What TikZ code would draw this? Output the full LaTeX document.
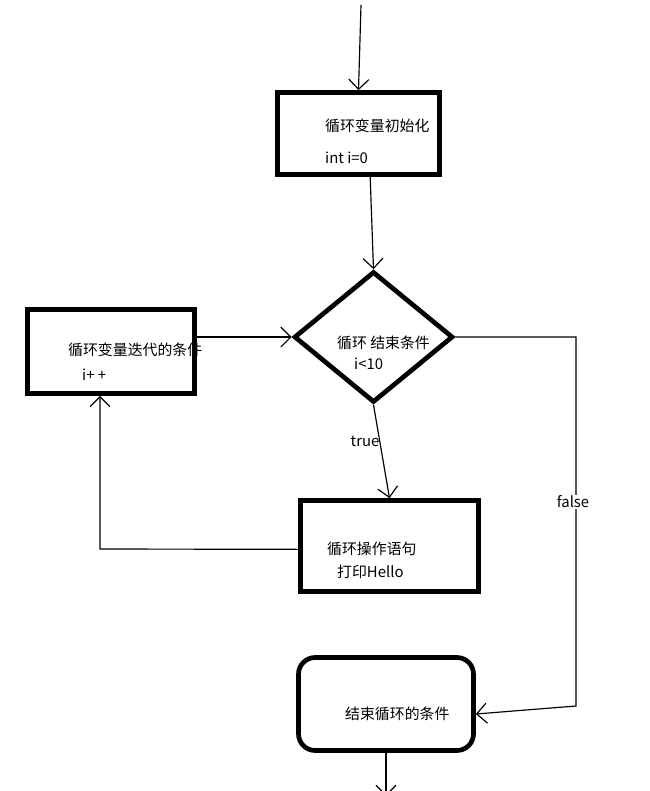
\documentclass[tikz,border=0pt]{standalone}
\usepackage{fontspec}
\setmainfont{Noto Sans CJK SC}
\usetikzlibrary{shapes.geometric,arrows.meta,positioning}

\begin{document}
\begin{tikzpicture}[x=0.03cm,y=-0.03cm,>={Straight Barb[length=3mm,width=6mm]},
	box/.style={draw,line width=4pt,inner sep=0pt},
	txt/.style={anchor=base west,inner sep=0pt,font=\fontsize{12.7}{15}\selectfont},
	line/.style={->,line width=1pt}]
			\useasboundingbox (0,0) rectangle (650,791);
			\clip (0,0) rectangle (650,791);

			\node[box,minimum width=4.86cm,minimum height=2.46cm] (init) at (358.5,133.5) {};
			\node[box,diamond,minimum width=4.77cm,minimum height=3.93cm] (cond) at (373.5,337) {};
			\node[box,minimum width=5.01cm,minimum height=2.52cm] (iter) at (111,351.5) {};
			\node[box,minimum width=5.34cm,minimum height=2.73cm] (op) at (389.5,546) {};
			\node[box,rounded corners=0.5cm,minimum width=5.25cm,minimum height=2.79cm] (end) at (386,704) {};

			\node[txt] (t1) at (325,132) {循环变量初始化};
			\node[txt] (t2) at (325,164) {int i=0};
			\node[txt] (t3) at (337,348) {循环 结束条件};
			\node[txt] (t4) at (354,369) {i<10};
			\node[txt] (t5) at (68,355.5) {循环变量迭代的条件};
			\node[txt] (t6) at (82,380) {i+ +};
			\node[txt] (t7) at (327,554.5) {循环操作语句};
			\node[txt] (t8) at (337,577.5) {打印Hello};
			\node[txt] (t9) at (345,719.5) {结束循环的条件};

			\coordinate (in) at (361,5);
			\coordinate (out) at (386,796);
			\coordinate (fb) at (576,706);
			\coordinate (back) at (100,549);

			\draw[line] (in) -- (init.north);
			\draw[line] ([xshift=0.35cm]init.south) -- (cond.north);
			\draw[line] (cond.south) -- (op.north);
			\draw[line] (cond.east) -| (fb) -- ([yshift=-0.3cm]end.east);
			\draw[line] ([yshift=-0.1cm]op.west) -- (back) -- (back |- iter.south);
			\draw[line] (iter.east |- cond.west) -- (cond.west);
			\draw[line] (end.south) -- (out);

			\node[font=\fontsize{12.7}{15}\selectfont,inner sep=0pt] (lt) at (365,441) {true};
			\node[font=\fontsize{12.7}{15}\selectfont,inner sep=1pt,fill=white] (lf) at (573,502) {false};
\end{tikzpicture}
\end{document}
